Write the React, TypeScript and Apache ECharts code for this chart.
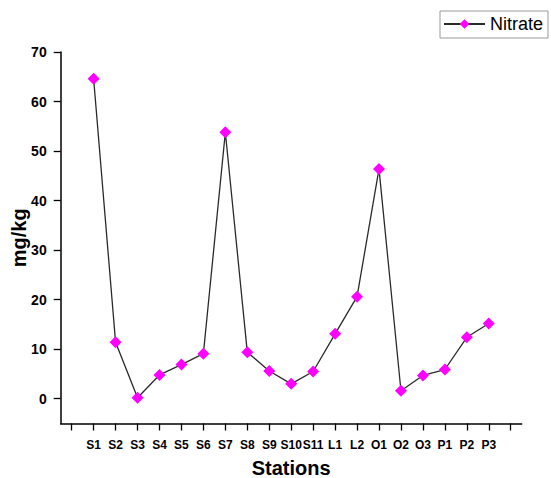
import React, { useEffect, useRef } from "react";
import * as echarts from "echarts";

const stations = ["", "S1", "S2", "S3", "S4", "S5", "S6", "S7", "S8", "S9", "S10", "S11", "L1", "L2", "O1", "O2", "O3", "P1", "P2", "P3", ""];
const nitrate: (number | null)[] = [null, 64.6, 11.4, 0.2, 4.8, 6.9, 9.1, 53.8, 9.4, 5.6, 3.0, 5.5, 13.1, 20.6, 46.4, 1.6, 4.7, 5.9, 12.4, 15.2, null];
const yTicks = [0, 10, 20, 30, 40, 50, 60, 70];

const FONT = "'Liberation Sans', Arial, Helvetica, sans-serif";

export default function App() {
  const ref = useRef<HTMLDivElement>(null);
  useEffect(() => {
    document.body.style.margin = "0";
    const chart = echarts.init(ref.current!, null, { renderer: "svg" });
    chart.setOption({
      animation: false,
      backgroundColor: "#ffffff",
      textStyle: { fontFamily: FONT },
      grid: { left: 60.7, right: 29.3, top: 52, bottom: 54.5, containLabel: false, outerBoundsMode: "none" },
      legend: {
        left: 440,
        top: 11,
        padding: [4, 5, 5, 3],
        borderColor: "#999",
        borderWidth: 1,
        itemWidth: 41,
        itemHeight: 12,
        itemGap: 6,
        textStyle: { fontFamily: FONT, fontSize: 18, color: "#000" },
        data: ["Nitrate"],
      },
      xAxis: {
        type: "category",
        data: stations,
        boundaryGap: true,
        name: "Stations",
        nameLocation: "middle",
        nameGap: 34,
        nameMoveOverlap: false,
        nameTextStyle: { fontFamily: FONT, fontSize: 20, lineHeight: 20, fontWeight: "bold", color: "#000" },
        axisLine: { show: true, onZero: false, lineStyle: { color: "#000", width: 1.5 } },
        axisTick: { show: true, alignWithLabel: true, interval: 0, length: 7, lineStyle: { color: "#000", width: 1.3 } },
        axisLabel: { interval: 0, margin: 15, fontFamily: FONT, fontSize: 12, fontWeight: "bold", color: "#000" },
        splitLine: { show: false },
      },
      yAxis: {
        type: "value",
        min: -5,
        max: 70,
        name: "mg/kg",
        nameLocation: "middle",
        nameGap: 32,
        nameMoveOverlap: false,
        nameTextStyle: { fontFamily: FONT, fontSize: 20, fontWeight: "bold", color: "#000" },
        axisLine: { show: true, lineStyle: { color: "#000", width: 1.5 } },
        axisTick: { show: true, length: 7, customValues: yTicks, lineStyle: { color: "#000", width: 1.3 } },
        axisLabel: { margin: 14, customValues: yTicks, fontFamily: FONT, fontSize: 14, fontWeight: "bold", color: "#000" },
        splitLine: { show: false },
      },
      series: [
        {
          name: "Nitrate",
          type: "line",
          data: nitrate,
          symbol: "diamond",
          symbolSize: 12,
          itemStyle: { color: "#ff00ff" },
          lineStyle: { color: "#2a2a2a", width: 1.3 },
          connectNulls: false,
        },
      ],
    });
    return () => chart.dispose();
  }, []);
  return <div ref={ref} style={{ width: 551, height: 478 }} />;
}
